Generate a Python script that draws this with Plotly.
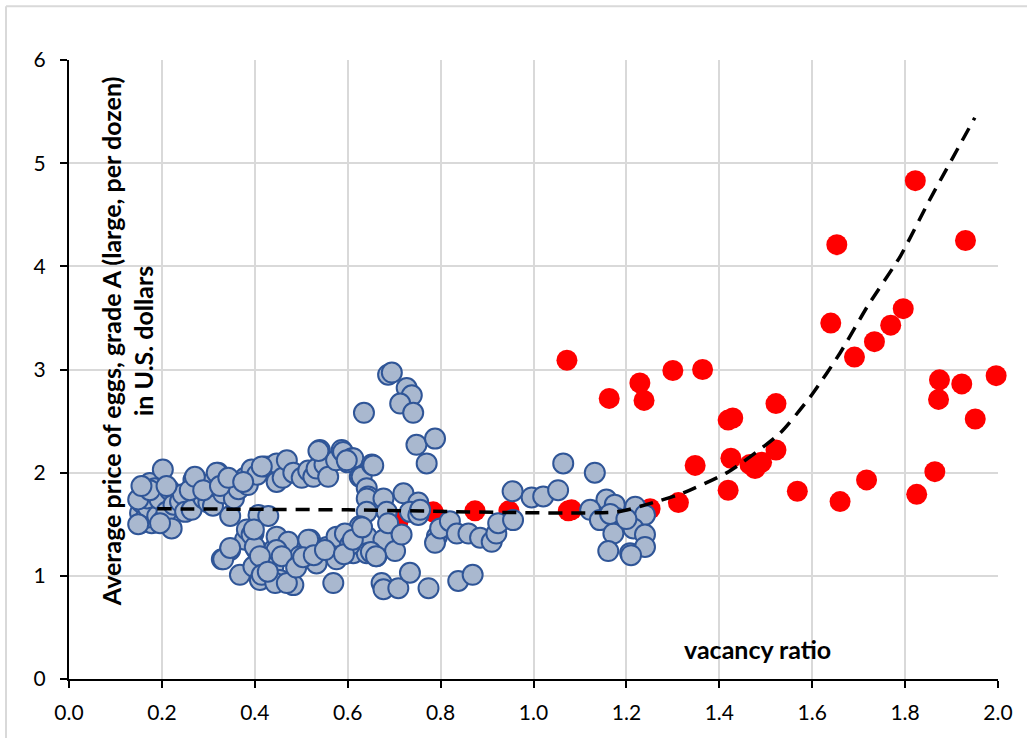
import plotly.graph_objects as go

# Monthly observations before the price spike (vacancy ratio, egg price)
blue_x = [
    0.153, 0.153, 0.156, 0.160, 0.174, 0.178, 0.181, 0.178, 0.165, 0.170,
    0.168, 0.185, 0.190, 0.195, 0.202, 0.203, 0.210, 0.221, 0.217, 0.225,
    0.239, 0.245, 0.250, 0.264, 0.268, 0.275, 0.282, 0.290, 0.300, 0.307,
    0.310, 0.321, 0.332, 0.340, 0.347, 0.347, 0.355, 0.365, 0.379, 0.385,
    0.393, 0.405, 0.408, 0.422, 0.429, 0.433, 0.447, 0.447, 0.460, 0.469,
    0.483, 0.501, 0.515, 0.526, 0.533, 0.540, 0.550, 0.558, 0.575, 0.587,
    0.590, 0.600, 0.609, 0.612, 0.626, 0.630, 0.641, 0.644, 0.652, 0.655,
    0.641, 0.641, 0.677, 0.684, 0.720, 0.752, 0.734, 0.752, 0.756, 0.635,
    0.687, 0.695, 0.727, 0.738, 0.713, 0.741, 0.748, 0.788, 0.770,
    0.149, 0.149, 0.174, 0.210, 0.260, 0.271, 0.289, 0.318, 0.325, 0.343,
    0.375, 0.415, 0.537, 0.598, 0.196, 0.156,
    0.347, 0.329, 0.368, 0.379, 0.397, 0.404, 0.397, 0.426, 0.411, 0.440,
    0.447, 0.440, 0.454, 0.483, 0.472, 0.447, 0.497, 0.519, 0.533, 0.562,
    0.576, 0.569, 0.583, 0.612, 0.626, 0.641, 0.641, 0.662, 0.677, 0.687,
    0.702, 0.716, 0.673, 0.677, 0.709, 0.734, 0.774, 0.838, 0.869,
    0.332, 0.347, 0.383, 0.393, 0.400, 0.411, 0.415, 0.444, 0.469, 0.458,
    0.515, 0.555, 0.576, 0.594, 0.605, 0.398, 0.428, 0.489, 0.504, 0.527,
    0.551, 0.592, 0.611, 0.631, 0.650, 0.661,
    0.792, 0.788, 0.799, 0.820, 0.835, 0.860, 0.885, 0.910, 0.920, 0.924,
    0.956, 0.955, 0.996, 1.021, 1.053, 1.064, 1.132,
    1.157, 1.175, 1.122, 1.143, 1.179, 1.219, 1.240, 1.172, 1.215, 1.240,
    1.161, 1.208, 1.240, 1.210, 1.165, 1.200,
]
blue_y = [
    1.51, 1.61, 1.71, 1.80, 1.90, 1.79, 1.67, 1.51, 1.56, 1.66,
    1.75, 1.85, 1.58, 1.74, 2.03, 1.54, 1.62, 1.46, 1.83, 1.69,
    1.72, 1.79, 1.62, 1.64, 1.93, 1.85, 1.80, 1.75, 1.71, 1.90,
    1.68, 2.00, 1.80, 1.88, 1.93, 1.58, 1.75, 1.84, 1.95, 1.88,
    2.03, 1.98, 1.59, 2.06, 1.58, 2.06, 2.09, 1.91, 1.95, 2.12,
    2.00, 1.95, 2.02, 1.96, 2.04, 2.22, 2.08, 1.96, 2.12, 2.22,
    2.20, 2.10, 2.14, 2.14, 1.96, 1.96, 1.85, 1.77, 2.08, 2.07,
    1.75, 1.62, 1.75, 1.62, 1.80, 1.71, 1.62, 1.59, 1.64, 2.58,
    2.95, 2.97, 2.82, 2.75, 2.67, 2.58, 2.27, 2.33, 2.09,
    1.74, 1.50, 1.83, 1.87, 1.83, 1.96, 1.83, 2.00, 1.87, 1.95,
    1.91, 2.06, 2.21, 2.12, 1.51, 1.87,
    1.25, 1.16, 1.01, 1.35, 1.41, 1.25, 1.09, 1.12, 0.96, 1.25,
    1.38, 1.09, 0.96, 0.91, 1.33, 1.25, 1.19, 1.35, 1.12, 1.28,
    1.16, 0.93, 1.35, 1.22, 1.48, 1.38, 1.22, 1.19, 1.35, 1.51,
    1.24, 1.40, 0.93, 0.87, 0.88, 1.03, 0.88, 0.95, 1.01,
    1.16, 1.27, 1.45, 1.40, 1.28, 1.19, 1.01, 0.93, 0.93, 1.19,
    1.35, 1.28, 1.38, 1.41, 1.30, 1.45, 1.04, 1.08, 1.18, 1.20,
    1.25, 1.21, 1.35, 1.47, 1.23, 1.19,
    1.38, 1.32, 1.46, 1.53, 1.41, 1.41, 1.37, 1.33, 1.41, 1.51,
    1.54, 1.82, 1.76, 1.77, 1.83, 2.09, 2.00,
    1.74, 1.69, 1.64, 1.54, 1.56, 1.67, 1.59, 1.41, 1.46, 1.40,
    1.24, 1.22, 1.28, 1.20, 1.60, 1.55,
]

# Recent observations (vacancy ratio, egg price)
red_x = [
    0.708, 0.784, 0.874, 0.947, 1.075, 1.082, 1.072, 1.163, 1.229, 1.238,
    1.300, 1.364, 1.251, 1.312, 1.348, 1.419, 1.429, 1.425, 1.419, 1.466,
    1.477, 1.491, 1.522, 1.522, 1.568, 1.640, 1.653, 1.660, 1.691, 1.717,
    1.734, 1.769, 1.796, 1.822, 1.825, 1.864, 1.872, 1.874, 1.922, 1.930,
    1.951, 1.996,
]
red_y = [
    1.52, 1.62, 1.63, 1.63, 1.63, 1.64, 3.09, 2.72, 2.87, 2.70,
    2.99, 3.00, 1.65, 1.71, 2.07, 2.51, 2.53, 2.14, 1.83, 2.08,
    2.04, 2.10, 2.67, 2.22, 1.82, 3.45, 4.21, 1.72, 3.12, 1.93,
    3.27, 3.43, 3.59, 4.83, 1.79, 2.01, 2.71, 2.90, 2.86, 4.25,
    2.52, 2.94,
]

# Fitted trend: flat level, then a rising curve
trend_x = [0.19, 0.60, 1.18, 1.25, 1.32, 1.42, 1.53, 1.60, 1.66, 1.72, 1.79, 1.85, 1.95]
trend_y = [1.65, 1.64, 1.62, 1.70, 1.80, 2.01, 2.38, 2.76, 3.16, 3.62, 4.10, 4.62, 5.44]

x_ticks = [0.0, 0.2, 0.4, 0.6, 0.8, 1.0, 1.2, 1.4, 1.6, 1.8, 2.0]
x_tick_labels = ["0.0", "0.2", "0.4", "0.6", "0.8", "1.0", "1.2", "1.4", "1.6", "1.8", "2.0"]
y_ticks = [0, 1, 2, 3, 4, 5, 6]

FONT = "Lato"
GRID = "#D9D9D9"

fig = go.Figure()

fig.add_trace(go.Scatter(
    x=red_x, y=red_y, mode="markers", cliponaxis=False,
    marker=dict(size=21, color="#FF0000", line=dict(width=0)),
    showlegend=False, hoverinfo="skip",
))
fig.add_trace(go.Scatter(
    x=blue_x, y=blue_y, mode="markers", cliponaxis=False,
    marker=dict(size=20, color="#A9B8CF", line=dict(width=2, color="#2F5597")),
    showlegend=False, hoverinfo="skip",
))
fig.add_trace(go.Scatter(
    x=trend_x, y=trend_y, mode="lines", cliponaxis=False,
    line=dict(color="black", width=3.5, dash="14px,9px", shape="spline", smoothing=0.6),
    showlegend=False, hoverinfo="skip",
))

fig.update_layout(
    width=1027, height=738,
    margin=dict(l=69, r=29, t=60, b=59),
    paper_bgcolor="white", plot_bgcolor="white",
    font=dict(family=FONT, size=21, color="black"),
    xaxis=dict(
        range=[0, 2], tickvals=x_ticks, ticktext=x_tick_labels,
        showgrid=True, gridcolor=GRID, gridwidth=1.5,
        showline=True, linecolor="black", linewidth=2,
        ticks="outside", ticklen=7, tickwidth=2, tickcolor="black",
        ticklabelstandoff=7, zeroline=False,
    ),
    yaxis=dict(
        range=[0, 6], tickvals=y_ticks,
        showgrid=True, gridcolor=GRID, gridwidth=1.5,
        showline=True, linecolor="black", linewidth=2,
        ticks="outside", ticklen=7, tickwidth=2, tickcolor="black",
        ticklabelstandoff=10, zeroline=False,
    ),
    annotations=[
        dict(
            text="<b>Average price of eggs, grade A (large, per dozen)<br>in U.S. dollars</b>",
            textangle=-90, xref="paper", yref="paper",
            x=0.063, y=0.545, xanchor="center", yanchor="middle",
            showarrow=False, align="center",
            font=dict(family=FONT, size=25, color="black"),
        ),
        dict(
            text="<b>vacancy ratio</b>", xref="x", yref="y",
            x=1.482, y=0.29, xanchor="center", yanchor="middle",
            showarrow=False, font=dict(family=FONT, size=25, color="black"),
        ),
    ],
    shapes=[
        # chart-area frame on the left and top edges
        dict(type="line", xref="paper", yref="paper",
             x0=-0.0678, x1=-0.0678, y0=1.087, y1=-0.2, line=dict(color=GRID, width=2)),
        dict(type="line", xref="paper", yref="paper",
             x0=-0.0678, x1=1.1, y0=1.087, y1=1.087, line=dict(color=GRID, width=2)),
    ],
)

fig.write_html("out.html")
